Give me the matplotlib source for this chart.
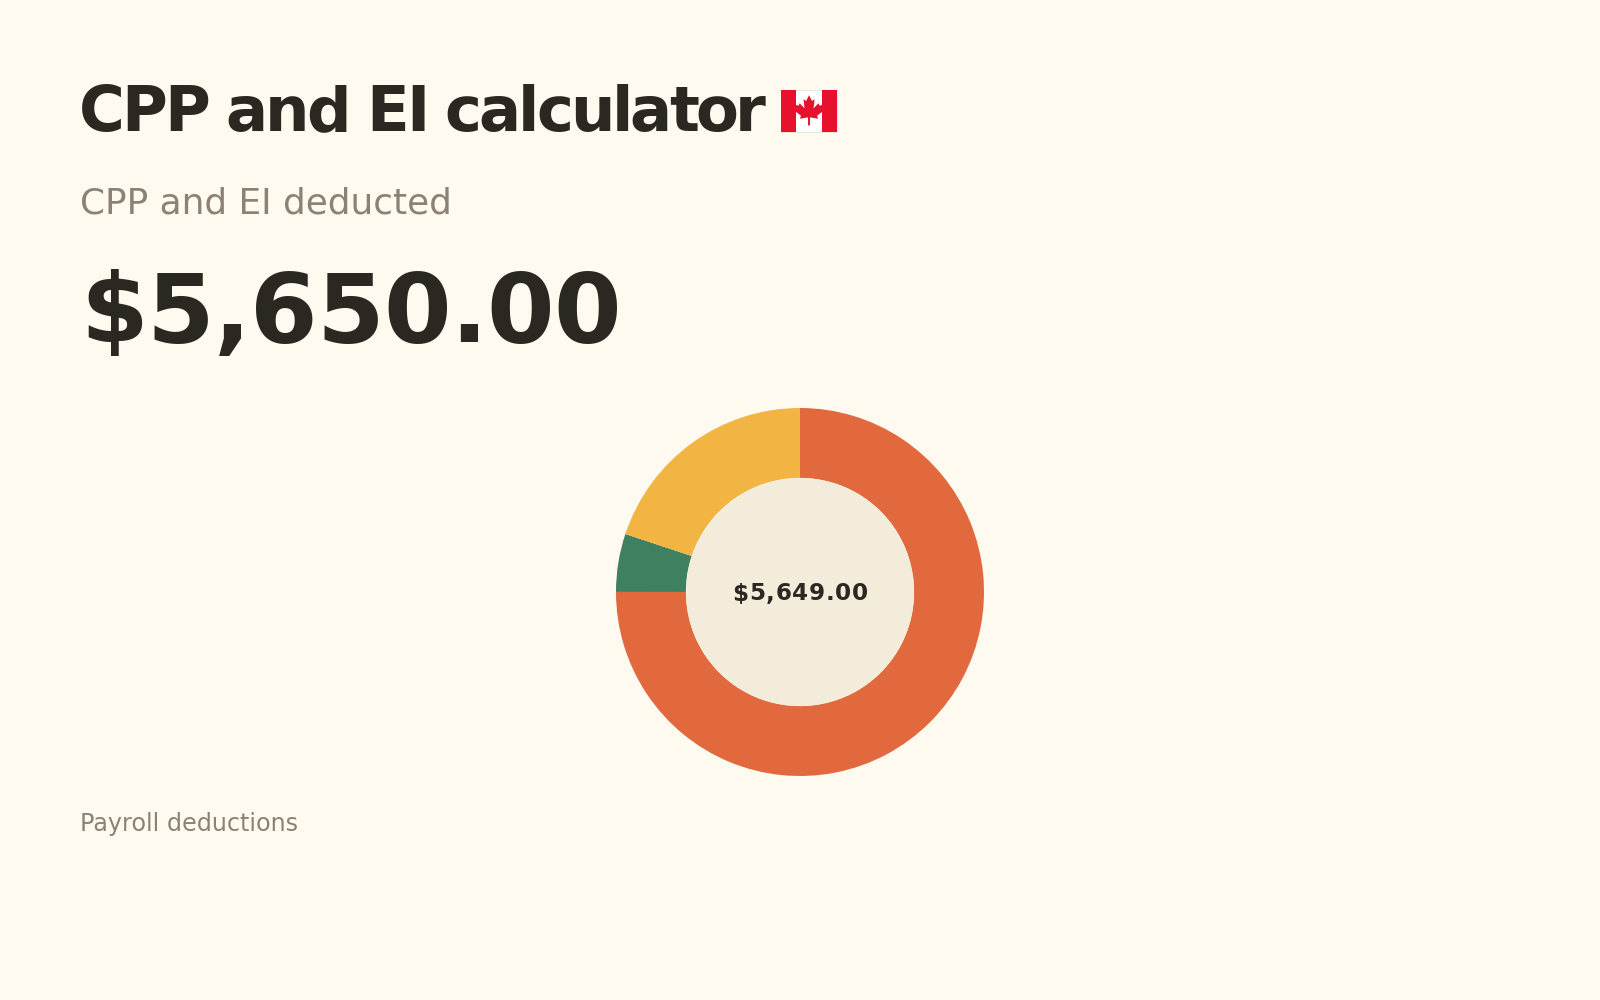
import matplotlib
matplotlib.use("Agg")
import matplotlib.pyplot as plt
from matplotlib.patches import Rectangle, Polygon, Circle
from matplotlib.font_manager import FontProperties, findfont
from matplotlib import ft2font

# ---- data ----
title = "CPP and EI calculator"
subtitle = "CPP and EI deducted"
headline_value = "$5,650.00"
footer = "Payroll deductions"
segment_labels = ["CPP", "CPP2", "EI"]
segment_values = [4237, 288, 1124]
segment_colors = ["#E2693E", "#3E8060", "#F2B443"]

BG = "#FEFAEF"
DARK = "#2B2721"
GREY = "#8C8174"
INNER = "#F4ECDB"
DPI = 100

plt.rcParams['font.family'] = ['DejaVu Sans']

fig = plt.figure(figsize=(16, 10), dpi=DPI)
fig.patch.set_facecolor(BG)

# donut chart
R = 184
ccx, ccy = 800, 592
ax = fig.add_axes([(ccx - R) / 1600, (1000 - ccy - R) / 1000, 2 * R / 1600, 2 * R / 1000])
ax.set_facecolor("none")
ax.pie(segment_values, colors=segment_colors, startangle=90, counterclock=False,
       radius=1, wedgeprops=dict(width=0.38, edgecolor="none", linewidth=0))
ax.add_patch(Circle((0, 0), 0.62, facecolor=INNER, edgecolor="none"))
ax.set_xlim(-1, 1)
ax.set_ylim(-1, 1)
ax.set_aspect("equal")
ax.axis("off")

# overlay axes in pixel coordinates for all text
bg = fig.add_axes([0, 0, 1, 1])
bg.set_xlim(0, 1600)
bg.set_ylim(1000, 0)
bg.axis("off")
bg.patch.set_alpha(0)
bg.set_zorder(10)

try:
    NOHINT = ft2font.LoadFlags.NO_HINTING
except AttributeError:
    NOHINT = ft2font.LOAD_NO_HINTING


def advances(s, size, weight):
    fp = FontProperties(family="DejaVu Sans", weight=weight, size=size)
    font = ft2font.FT2Font(findfont(fp))
    font.set_size(size, DPI)
    out = []
    for c in s:
        g = font.load_char(ord(c), flags=NOHINT)
        out.append(g.linearHoriAdvance / 65536)
    return out


def spaced_text(axx, x, y, s, size, weight, color, ls_em=0.0, center=False):
    adv = advances(s, size, weight)
    ls = ls_em * size * DPI / 72
    total = sum(adv) + ls * (len(s) - 1)
    if center:
        x = x - total / 2
    pos = x
    for c, a in zip(s, adv):
        axx.text(pos, y, c, fontsize=size, fontweight=weight, color=color,
                 ha="left", va="baseline")
        pos += a + ls
    return x + total


title_end = spaced_text(bg, 79, 131, title, 45, "bold", DARK, ls_em=-0.05)
bg.text(80, 213.5, subtitle, fontsize=25.8, color=GREY, va="baseline", ha="left")
spaced_text(bg, 80, 342.5, headline_value, 70, "bold", DARK, ls_em=-0.008)
bg.text(80.5, 831, footer, fontsize=17.2, color=GREY, va="baseline", ha="left")

# Canadian flag (decoration drawn with patches)
fx0 = title_end + 15
fw, fh = 56, 42
fx1, fy0 = fx0 + fw, 90
fy1 = fy0 + fh
bg.add_patch(Rectangle((fx0, fy0), fw, fh, facecolor="white", edgecolor="#e4e0da", lw=0.6))
bg.add_patch(Rectangle((fx0, fy0), fw * 0.26, fh, facecolor="#E8112D", edgecolor="none"))
bg.add_patch(Rectangle((fx1 - fw * 0.26, fy0), fw * 0.26, fh, facecolor="#E8112D", edgecolor="none"))
half = [(0, 1.0), (0.17, 0.66), (0.33, 0.76), (0.27, 0.22), (0.56, 0.52), (0.62, 0.38),
        (0.9, 0.44), (0.8, 0.18), (0.9, 0.1), (0.48, -0.22), (0.54, -0.4), (0.06, -0.32),
        (0.06, -0.8)]
leaf = half + [(-x, y) for (x, y) in reversed(half)]
cx, cy = (fx0 + fx1) / 2, (fy0 + fy1) / 2 + 1
s = fh * 0.4
bg.add_patch(Polygon([(cx + x * s, cy - y * s) for x, y in leaf], closed=True,
                     facecolor="#E8112D", edgecolor="none"))

total = sum(segment_values)
spaced_text(bg, ccx, 600.5, f"${total:,.2f}", 16.6, "bold", DARK, ls_em=0.03, center=True)

fig.savefig("out.png", dpi=DPI, facecolor=BG)
